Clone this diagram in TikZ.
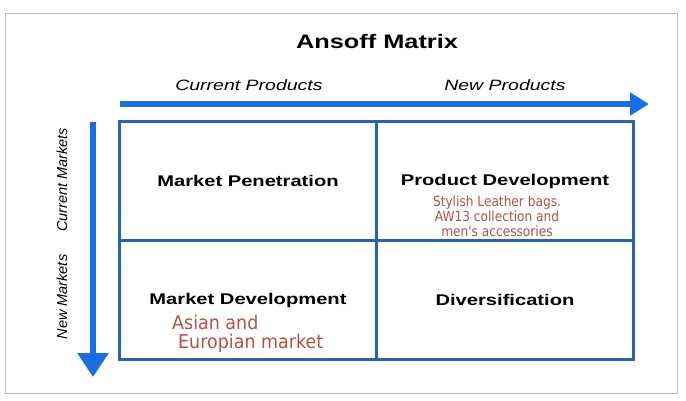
\documentclass[tikz,border=0pt]{standalone}
\usepackage{fontspec}
\setmainfont{Liberation Sans}
\newfontfamily\widesf[FakeStretch=1.3]{Liberation Sans}
\newfontfamily\narrowsf[FakeStretch=0.87]{DejaVu Sans}
\newfontfamily\notesf[FakeStretch=0.92]{DejaVu Sans}
\usetikzlibrary{arrows.meta}
\definecolor{gridblue}{RGB}{38,100,175}
\definecolor{axisblue}{RGB}{25,110,225}
\definecolor{notered}{RGB}{178,82,72}
\definecolor{framegray}{RGB}{185,185,185}

\begin{document}
\begin{tikzpicture}[x=1pt,y=-1pt,
  cell/.style={draw=gridblue,line width=2.5pt,minimum width=257pt,minimum height=119pt,
    inner sep=0pt,font=\widesf\bfseries\fontsize{15.5}{18}\selectfont},
  note/.style={text=notered,inner sep=0pt},
  axislabel/.style={font=\widesf\itshape\fontsize{15}{18}\selectfont},
  sidelabel/.style={rotate=90,font=\itshape\fontsize{14.5}{16}\selectfont},
  axis/.style={draw=axisblue,line width=6pt}]
\useasboundingbox[fill=white] (0,0) rectangle (686,400);
\draw[framegray,line width=1pt] (5,13) rectangle (677,393);

\node[font=\widesf\bfseries\fontsize{19.5}{22}\selectfont] (title) at (377,42) {Ansoff Matrix};

% axes
\begin{scope}
  \coordinate (prod start) at (120,104);
  \coordinate (prod end) at (649,104);
  \coordinate (mkt start) at (93,122);
  \coordinate (mkt end) at (93,377);
  \draw[axis,-{Triangle[length=19pt,width=22pt]}] (prod start) -- (prod end);
  \draw[axis,-{Triangle[length=24pt,width=30pt]}] (mkt start) -- (mkt end);
  \foreach \x/\name/\txt in {249/cur/Current Products, 505/new/New Products}
    \node[axislabel] (\name prod) at (\x,85) {\txt};
  \foreach \y/\name/\txt in {180/cur/Current Markets, 297/new/New Markets}
    \node[sidelabel] (\name mkt) at (62,\y) {\txt};
\end{scope}

% the four strategies
\node[cell] (pen) at (248,181) {Market Penetration};
\node[cell] (prod) at (505,181) {Product Development};
\node[cell] (mdev) at (248,300) {Market Development};
\node[cell] (div) at (505,300) {Diversification};

\node[note,align=center,anchor=north,font=\narrowsf\fontsize{14}{15}\selectfont] (bags)
  at (497,196) {Stylish Leather bags.\\AW13 collection and\\men's accessories};
\node[note,anchor=west,font=\notesf\fontsize{19}{20}\selectfont] (asia) at (172,322) {Asian and};
\node[note,anchor=west,font=\notesf\fontsize{19}{20}\selectfont] (europe) at (178,343) {Europian market};
\end{tikzpicture}
\end{document}
